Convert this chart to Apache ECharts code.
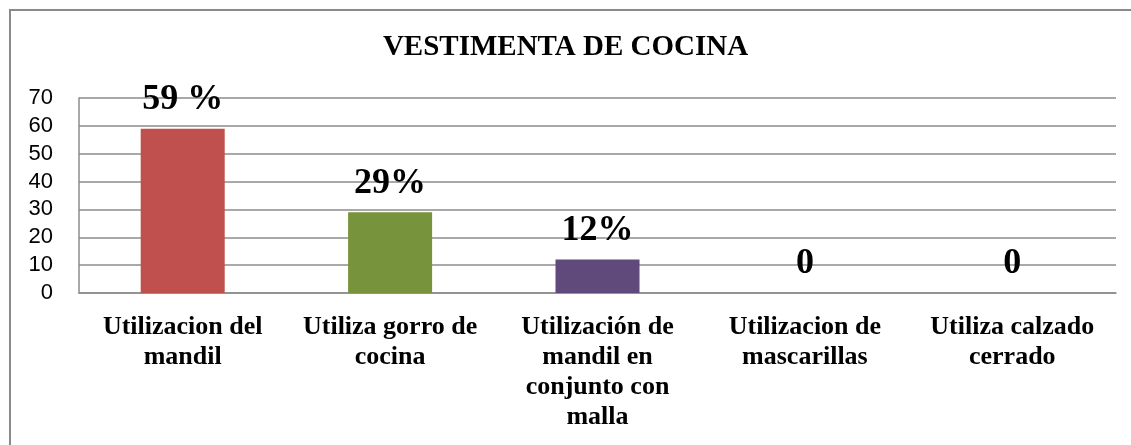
<!DOCTYPE html>
<html>
<head>
<meta charset="utf-8">
<script src="https://cdn.jsdelivr.net/npm/echarts@6/dist/echarts.min.js"></script>
<style>
html,body{margin:0;padding:0;background:#fff;}
#chart{width:1131px;height:445px;}
</style>
</head>
<body>
<div id="chart"></div>
<script>
const titleText = 'VESTIMENTA DE COCINA';
const categories = [
  'Utilizacion del\nmandil',
  'Utiliza gorro de\ncocina',
  'Utilización de\nmandil en\nconjunto con\nmalla',
  'Utilizacion de\nmascarillas',
  'Utiliza calzado\ncerrado'
];
const values = [59, 29, 12, 0, 0];
const valueLabels = ['59 %', '29%', '12%', '0', '0'];
const barColors = ['#C0504D', '#77933C', '#604A7B', '#4BACC6', '#F79646'];
const yTicks = [0, 10, 20, 30, 40, 50, 60, 70];

const chart = echarts.init(document.getElementById('chart'), null, {renderer: 'canvas'});
const serif = '"Liberation Serif", "Times New Roman", serif';
const gridColor = '#8c8c8c';

chart.setOption({
  animation: false,
  backgroundColor: '#fff',
  graphic: [{
    type: 'rect',
    shape: {x: 10, y: 10, width: 1200, height: 500},
    style: {fill: 'none', stroke: '#8a8a8a', lineWidth: 2},
    silent: true
  }],
  title: {
    text: titleText,
    left: 'center',
    top: 33,
    padding: 0,
    textStyle: {fontFamily: serif, fontWeight: 'bold', fontSize: 29, lineHeight: 30, color: '#000'}
  },
  grid: {left: 79, right: 15, top: 98, bottom: 152, containLabel: false},
  xAxis: {
    type: 'category',
    data: categories,
    axisLine: {show: true, lineStyle: {color: gridColor, width: 1.5}},
    axisTick: {show: false},
    axisLabel: {
      interval: 0,
      margin: 19,
      fontFamily: serif,
      fontWeight: 'bold',
      fontSize: 26,
      lineHeight: 30,
      color: '#000',
      align: 'center'
    }
  },
  yAxis: {
    type: 'value',
    min: yTicks[0],
    max: yTicks[yTicks.length - 1],
    interval: yTicks[1] - yTicks[0],
    axisLine: {show: true, lineStyle: {color: gridColor, width: 1.5}},
    axisTick: {show: false},
    axisLabel: {
      margin: 26,
      fontFamily: '"Liberation Sans", Arial, sans-serif',
      fontSize: 22,
      color: '#000'
    },
    splitLine: {show: true, lineStyle: {color: gridColor, width: 1.5}}
  },
  series: [{
    type: 'bar',
    barWidth: 84,
    data: values.map((v, i) => ({value: v, itemStyle: {color: barColors[i]}})),
    label: {
      show: true,
      position: 'top',
      distance: 11,
      formatter: p => valueLabels[p.dataIndex],
      fontFamily: serif,
      fontWeight: 'bold',
      fontSize: 36,
      lineHeight: 36,
      color: '#000'
    }
  }]
});
</script>
</body>
</html>
